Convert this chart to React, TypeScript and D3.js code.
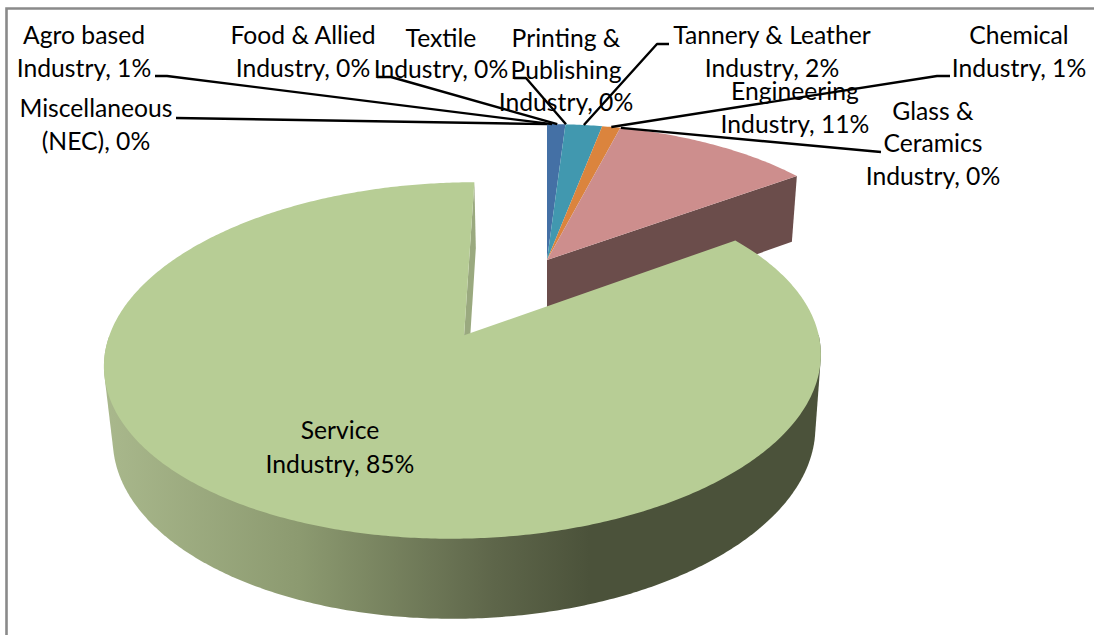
import React from "react";
import * as d3 from "d3";

// ---- data ----
const categories = ["Miscellaneous (NEC)", "Agro based Industry", "Food & Allied Industry", "Textile Industry", "Printing & Publishing Industry", "Tannery & Leather Industry", "Chemical Industry", "Glass & Ceramics Industry", "Engineering Industry", "Service Industry"];
const shares = [0, 1, 0, 0, 0, 2, 1, 0, 11, 85];
const sliceColors = ["#4f81bd", "#4470a5", "#4f81bd", "#4f81bd", "#4f81bd", "#4198af", "#db843d", "#aaa", "#cd8e8d", "#b7cd95"];
const wallColors: Record<string, string> = { "Engineering Industry": "#6b4d4b", "Service Industry": "url(#serviceWall)" };
const explodedCategory = "Service Industry";

// ---- layout ----
const W = 1094, H = 635;
const FONT = "Lato, sans-serif";
const FS = 24.7;
const P = { x0: 547, y0: 260, A: 154, B: 0.133, C: 333, k: 0.98, h: 69, explode: 0.515 };
const labelLines = [
  { x: 96, lines: [["Miscellaneous", 117], ["(NEC), 0%", 150]], path: [[176, 118]], rim: 0 },
  { x: 84, lines: [["Agro based", 44], ["Industry, 1%", 77]], path: [[155, 76], [167, 76]], rim: 1 },
  { x: 303, lines: [["Food & Allied", 44], ["Industry, 0%", 77]], path: [[377, 77], [391, 77]], rim: 2 },
  { x: 441, lines: [["Textile", 47], ["Industry, 0%", 78]], path: [[514, 78], [526, 78]], rim: 3.7 },
  { x: 566, lines: [["Printing &", 47], ["Publishing", 79], ["Industry, 0%", 111]], path: [] as number[][], rim: 3.7 },
  { x: 772, lines: [["Tannery & Leather", 44], ["Industry, 2%", 77]], path: [[669, 44], [657, 44]], rim: 7.2 },
  { x: 1019, lines: [["Chemical", 44], ["Industry, 1%", 77]], path: [[950, 76], [937, 76]], rim: 12.6 },
  { x: 795, lines: [["Engineering", 100], ["Industry, 11%", 133]], path: [] as number[][], rim: 30 },
  { x: 933, lines: [["Glass &", 120], ["Ceramics", 152], ["Industry, 0%", 185]], path: [[881, 152], [870, 151]], rim: 14.5 },
  { x: 340, lines: [["Service", 439], ["Industry, 85%", 473]], path: [] as number[][], rim: 0 },
];

// Perspective projection of the pie plane. X/Y are in radius units, level 0 = top, 1 = bottom.
function project(X: number, Y: number, level = 0): [number, number] {
  const s = 1 / (1 - P.B * Y);
  const k = level ? P.k : 1;
  return [P.x0 + P.C * k * X * s, P.y0 + P.A * k * Y * s + (level ? P.h * s : 0)];
}
const onRim = (a: number, cx = 0, cy = 0, level = 0) => project(cx + Math.sin(a), cy - Math.cos(a), level);

const line = d3.line();

export default function App() {
  const arcs = d3.pie<number>().sort(null).value((d) => d)(shares);

  const slices = arcs.map((a, i) => {
    const name = categories[i];
    const mid = (a.startAngle + a.endAngle) / 2;
    const exploded = name === explodedCategory;
    const cx = exploded ? P.explode * Math.sin(mid) : 0;
    const cy = exploded ? -P.explode * Math.cos(mid) : 0;
    const steps = Math.max(2, Math.ceil((a.endAngle - a.startAngle) / 0.01));
    const angles = d3.range(steps + 1).map((j) => a.startAngle + ((a.endAngle - a.startAngle) * j) / steps);
    const topRim = angles.map((t) => onRim(t, cx, cy, 0));
    const botRim = angles.map((t) => onRim(t, cx, cy, 1));
    const apexTop = project(cx, cy, 0);
    const apexBot = project(cx, cy, 1);
    const frontTop = angles.filter((t) => Math.cos(t) <= 0).map((t) => onRim(t, cx, cy, 0));
    const frontBot = angles.filter((t) => Math.cos(t) <= 0).map((t) => onRim(t, cx, cy, 1));
    return { name, i, a, topRim, botRim, apexTop, apexBot, frontTop, frontBot, exploded };
  }).filter((s) => s.a.endAngle > s.a.startAngle);

  const others = slices.filter((s) => !s.exploded);
  const service = slices.find((s) => s.exploded)!;
  const engineering = slices.find((s) => s.name === "Engineering Industry")!;

  const engEnd = engineering.topRim.length - 1;
  const engWall = [engineering.apexTop, engineering.topRim[engEnd], engineering.botRim[engEnd], engineering.apexBot] as [number, number][];
  const svcEnd = service.topRim.length - 1;
  const svcNotchWall = [service.apexTop, service.topRim[svcEnd], service.botRim[svcEnd], service.apexBot] as [number, number][];
  const svcHull = d3.polygonHull([...service.frontTop, ...service.frontBot] as [number, number][])!;
  const top = (s: typeof service) => [s.apexTop, ...s.topRim] as [number, number][];

  return (
    <svg width={W} height={H} viewBox={`0 0 ${W} ${H}`} style={{ position: "fixed", left: 0, top: 0, display: "block", background: "#fff" }}>
      <defs>
        <linearGradient id="serviceWall" gradientUnits="userSpaceOnUse" x1={105} y1={0} x2={590} y2={0}>
          <stop offset="0" stopColor="#a9b88c" />
          <stop offset="0.4" stopColor="#8c9a70" />
          <stop offset="0.8" stopColor="#5e664a" />
          <stop offset="1" stopColor="#4b523a" />
        </linearGradient>
      </defs>
      <path d={`M6.5 635V8.5H${W}`} fill="none" stroke="#8a8a8a" strokeWidth={2.6} />

      <path d={line(engWall)! + "Z"} fill={wallColors[engineering.name]} />
      {others.map((s) => (
        <path key={s.name} d={line(top(s))! + "Z"} fill={sliceColors[s.i]} />
      ))}
      <path d={line(svcHull)! + "Z"} fill={wallColors[service.name]} />
      <path d={line(svcNotchWall)! + "Z"} fill="#9aa97f" />
      <path d={line(top(service))! + "Z"} fill={sliceColors[service.i]} />

      {labelLines.map((l) =>
        l.lines.map(([t, y]) => (
          <text key={`${l.x}-${t}`} x={l.x} y={y as number} textAnchor="middle" fontFamily={FONT} fontSize={FS} fill="#000">
            {t}
          </text>
        ))
      )}
      {labelLines.filter((l) => l.path.length).map((l) => {
        const end = onRim((l.rim * Math.PI) / 180);
        return <path key={`lead-${l.x}`} d={line([...(l.path as [number, number][]), end])!} fill="none" stroke="#000" strokeWidth={2.4} strokeLinejoin="round" />;
      })}
    </svg>
  );
}
